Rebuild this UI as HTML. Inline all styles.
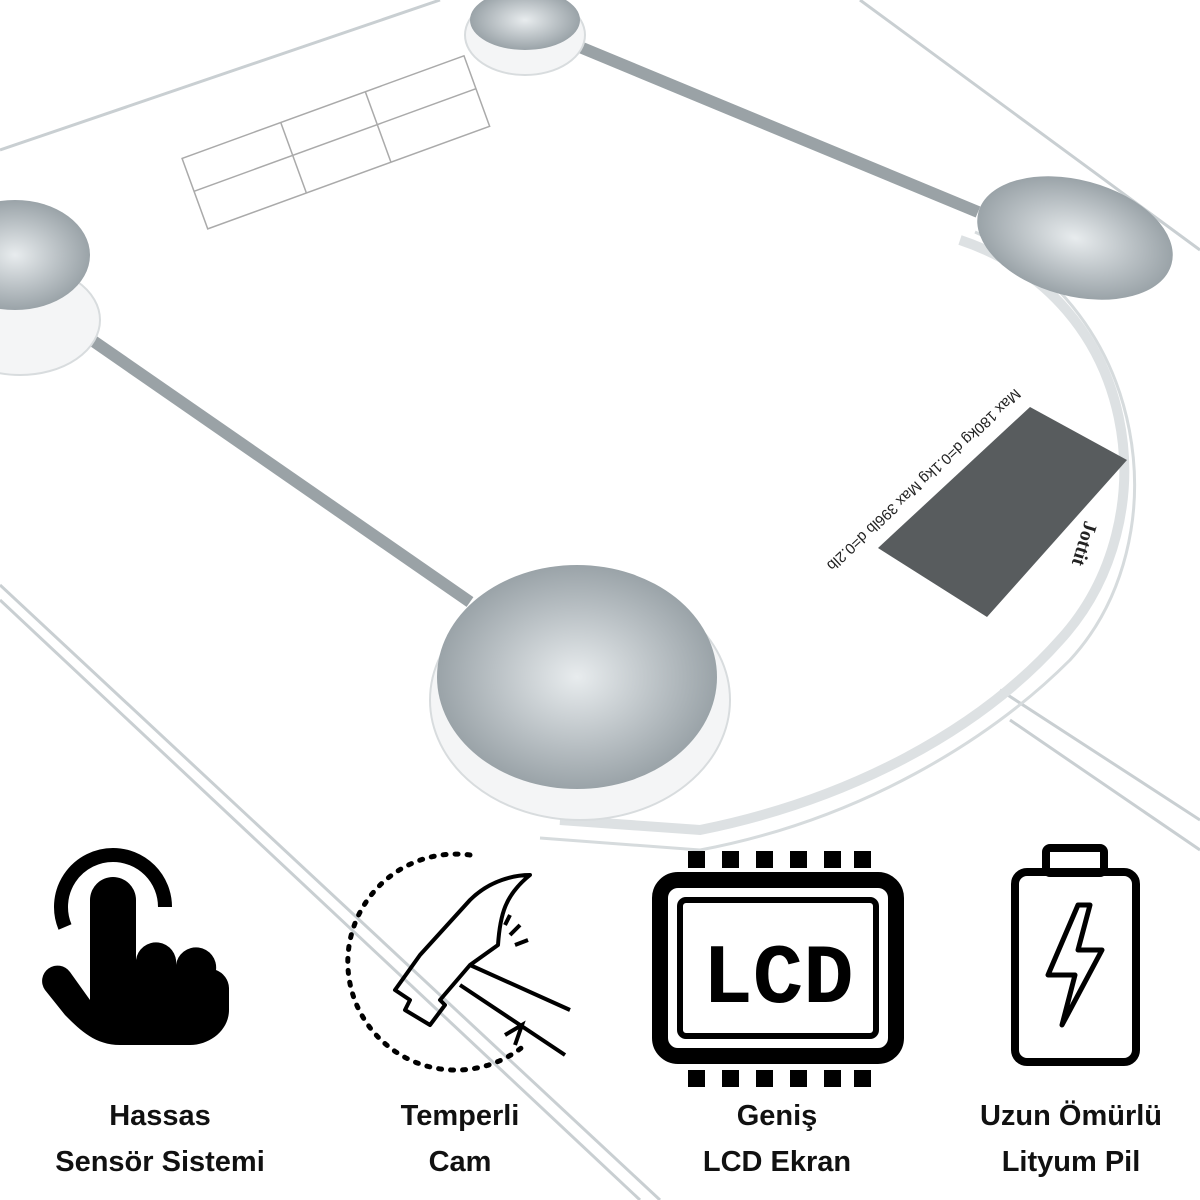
<!DOCTYPE html>
<html><head><meta charset="utf-8"><style>
body{margin:0;width:1200px;height:1200px;background:#fff;overflow:hidden;font-family:"Liberation Sans",sans-serif}
svg{position:absolute;left:0;top:0}
.lbl{position:absolute;font-weight:bold;font-size:29px;text-align:center;color:#111;line-height:46px;width:320px}
</style></head><body>
<svg width="1200" height="1200" viewBox="0 0 1200 1200">
<defs>
<radialGradient id="d" cx="50%" cy="50%" r="50%">
<stop offset="0" stop-color="#e8ecee"/><stop offset="0.6" stop-color="#b9c0c4"/><stop offset="1" stop-color="#9aa3a8"/></radialGradient>
</defs>
<g stroke="#c9cfd2" stroke-width="3" fill="none">
<line x1="0" y1="150" x2="440" y2="0"/>
<line x1="860" y1="0" x2="1200" y2="250"/>
<line x1="0" y1="585" x2="660" y2="1200"/>
<line x1="0" y1="600" x2="640" y2="1200"/>
<line x1="1000" y1="690" x2="1200" y2="820"/>
<line x1="1010" y1="720" x2="1200" y2="850"/>
</g>
<path d="M960,240 C1140,300 1170,520 1060,640 C980,730 850,800 700,830 L560,820" stroke="#dde1e3" stroke-width="10" fill="none"/>
<path d="M975,232 C1150,310 1180,540 1070,660 C990,740 860,820 700,850 L540,838" stroke="#d6dbdd" stroke-width="3" fill="none"/>
<line x1="60" y1="318" x2="470" y2="602" stroke="#9aa2a6" stroke-width="12"/>
<line x1="575" y1="45" x2="978" y2="212" stroke="#9aa2a6" stroke-width="12"/>
<ellipse cx="525" cy="35" rx="60" ry="40" fill="#f4f5f6" stroke="#d8dcde" stroke-width="2"/>
<ellipse cx="525" cy="20" rx="55" ry="30" fill="url(#d)"/>
<ellipse cx="20" cy="320" rx="80" ry="55" fill="#f4f5f6" stroke="#d8dcde" stroke-width="2"/>
<ellipse cx="15" cy="255" rx="75" ry="55" fill="url(#d)"/>
<ellipse cx="1075" cy="238" rx="100" ry="58" transform="rotate(15 1075 238)" fill="url(#d)"/>
<ellipse cx="580" cy="700" rx="150" ry="120" fill="#f4f5f6" stroke="#d8dcde" stroke-width="2"/>
<ellipse cx="577" cy="677" rx="140" ry="112" fill="url(#d)"/>
<polygon points="1030,407 1127,460 987,617 878,548" fill="#585c5e"/>
<text x="0" y="0" font-size="15" fill="#222" transform="translate(1015,388) rotate(137)">Max 180kg d=0.1kg Max 396lb d=0.2lb</text>
<text x="0" y="0" font-size="20" fill="#222" font-weight="bold" transform="translate(1085,520) rotate(107)" font-family="Liberation Serif">Jottit</text>
<g transform="rotate(-20 335 140)" stroke="#aaa" stroke-width="1.5" fill="none">
<rect x="185" y="105" width="300" height="75"/>
<line x1="185" y1="140" x2="485" y2="140"/>
<line x1="290" y1="105" x2="290" y2="180"/>
<line x1="380" y1="105" x2="380" y2="180"/>
</g>
<g fill="#000">
<path d="M90,1000 L90,900 a23,23 0 0 1 46,0 L136,960 a20,20 0 0 1 40,5 a20,20 0 0 1 40,5 a20,20 0 0 1 13,18 L229,1010 C229,1030 210,1045 190,1045 L120,1045 C95,1045 80,1030 65,1015 L45,990 a15,15 0 0 1 25,-18 Z"/>
<path d="M113,855 a52,52 0 0 0 -48,72" stroke="#000" stroke-width="14" fill="none"/>
<path d="M113,855 a52,52 0 0 1 52,52" stroke="#000" stroke-width="14" fill="none"/>
</g>
<g fill="none" stroke="#000" stroke-width="4">
<path d="M470,855 A108,108 0 1 0 525,1045" stroke-dasharray="3,9" stroke-linecap="round" stroke-width="5"/>
<path d="M395,990 L420,955 L470,900 C490,880 515,875 530,875 C505,895 500,915 498,945 L470,965 L440,1000 L445,1005 L430,1025 L405,1010 L410,1000 Z" stroke-linejoin="round"/>
<path d="M470,965 L570,1010 M460,985 L565,1055"/>
<path d="M510,935 L520,925 M515,945 L528,940 M505,925 L510,915"/>
<path d="M505,1035 L522,1025 L515,1045"/>
</g>
<g>
<rect x="660" y="880" width="236" height="176" rx="18" fill="none" stroke="#000" stroke-width="16"/>
<rect x="680" y="900" width="196" height="136" rx="6" fill="none" stroke="#000" stroke-width="6"/>
<g fill="#000">
<rect x="688" y="851" width="17" height="17"/><rect x="722" y="851" width="17" height="17"/><rect x="756" y="851" width="17" height="17"/><rect x="790" y="851" width="17" height="17"/><rect x="824" y="851" width="17" height="17"/><rect x="854" y="851" width="17" height="17"/>
<rect x="688" y="1070" width="17" height="17"/><rect x="722" y="1070" width="17" height="17"/><rect x="756" y="1070" width="17" height="17"/><rect x="790" y="1070" width="17" height="17"/><rect x="824" y="1070" width="17" height="17"/><rect x="854" y="1070" width="17" height="17"/>
</g>
<text x="778" y="1002" font-size="84" font-weight="bold" text-anchor="middle" font-family="Liberation Mono" fill="#000">LCD</text>
</g>
<g fill="none" stroke="#000" stroke-width="8">
<rect x="1046" y="848" width="58" height="25" rx="4"/>
<rect x="1015" y="872" width="121" height="190" rx="12"/>
<path d="M1078,905 L1048,975 L1075,975 L1062,1025 L1102,950 L1078,950 L1090,905 Z" stroke-width="5" stroke-linejoin="round"/>
</g>
</svg>
<div class="lbl" style="left:0;top:1093px">Hassas<br>Sensör Sistemi</div>
<div class="lbl" style="left:300px;top:1093px">Temperli<br>Cam</div>
<div class="lbl" style="left:617px;top:1093px">Geniş<br>LCD Ekran</div>
<div class="lbl" style="left:911px;top:1093px">Uzun Ömürlü<br>Lityum Pil</div>
</body></html>
